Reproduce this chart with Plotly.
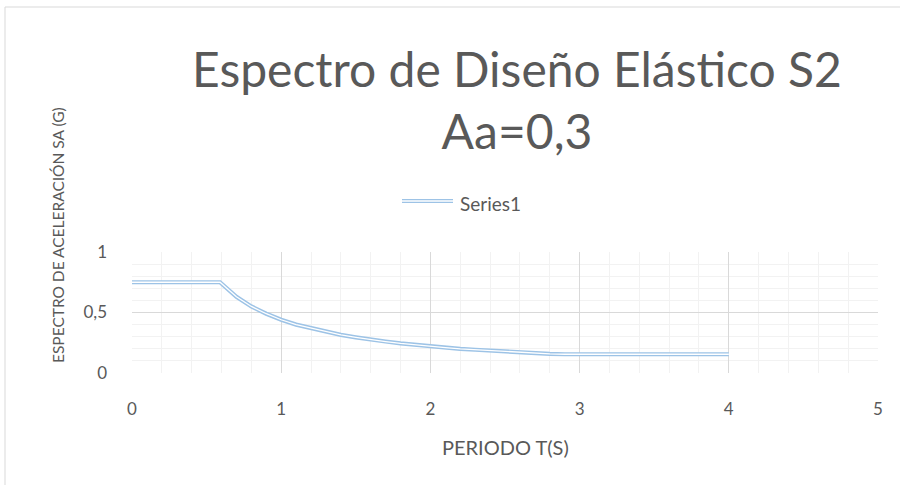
import plotly.graph_objects as go

# Data
periodo_t = [0.0, 0.1, 0.2, 0.3, 0.4, 0.5, 0.59, 0.7, 0.8, 0.9, 1.0, 1.1, 1.2, 1.3, 1.4,
             1.5, 1.6, 1.7, 1.8, 1.9, 2.0, 2.1, 2.2, 2.3, 2.4, 2.5, 2.6, 2.7, 2.8, 2.9,
             3.0, 3.1, 3.2, 3.3, 3.4, 3.5, 3.6, 3.7, 3.8, 3.9, 4.0]
sa_g = [0.75, 0.75, 0.75, 0.75, 0.75, 0.75, 0.75, 0.63, 0.55, 0.49, 0.44, 0.40, 0.37, 0.34, 0.315,
        0.295, 0.275, 0.26, 0.245, 0.232, 0.22, 0.21, 0.20, 0.192, 0.184, 0.177, 0.17, 0.163, 0.158, 0.155,
        0.155, 0.155, 0.155, 0.155, 0.155, 0.155, 0.155, 0.155, 0.155, 0.155, 0.155]
series_name = "Series1"
x_ticks = [0, 1, 2, 3, 4, 5]
y_ticks = [0, 0.5, 1]

TXT = "#595959"
FONT = "Lato"
BLUE = "#9DC3E6"

W, H = 900, 485
L, R, T, B = 132, 22, 252, 112
PW, PH = W - L - R, H - T - B


def px(x):
    return (x - L) / PW


def py(y):
    return (H - B - y) / PH


fig = go.Figure()
fig.add_trace(go.Scatter(x=periodo_t, y=sa_g, mode="lines", name=series_name,
                         line=dict(color=BLUE, width=4.2)))
fig.add_trace(go.Scatter(x=periodo_t, y=sa_g, mode="lines", name=series_name,
                         line=dict(color="white", width=1.3), hoverinfo="skip"))

fig.update_layout(
    width=W, height=H,
    margin=dict(l=L, r=R, t=T, b=B),
    paper_bgcolor="white", plot_bgcolor="white",
    separators=", ",
    font=dict(family=FONT, color=TXT, size=15),
    title=dict(text="Espectro de Diseño Elástico S2<br>Aa=0,3",
               x=517 / W, xanchor="center", y=1 - 87 / H, yanchor="top",
               font=dict(family=FONT, size=48, color=TXT)),
    showlegend=False,
    xaxis=dict(range=[0, 5], tickvals=x_ticks, showgrid=True, gridcolor="#D9D9D9",
               gridwidth=1, zeroline=False, showline=False, ticks="",
               ticklabelstandoff=24, tickfont=dict(size=17, color=TXT),
               minor=dict(dtick=0.2, showgrid=True, gridcolor="#F2F2F2", gridwidth=1)),
    yaxis=dict(range=[0, 1], tickvals=y_ticks, showgrid=True, gridcolor="#D9D9D9",
               gridwidth=1, zeroline=False, showline=False, ticks="",
               ticklabelstandoff=24, tickfont=dict(size=17, color=TXT),
               minor=dict(dtick=0.1, showgrid=True, gridcolor="#F2F2F2", gridwidth=1)),
    annotations=[
        dict(text="ESPECTRO DE ACELERACIÓN SA (G)", x=px(58), y=py(235), xref="paper",
             yref="paper", showarrow=False, textangle=-90, xanchor="center",
             yanchor="middle", font=dict(family=FONT, size=15.5, color=TXT)),
        dict(text="PERIODO T(S)", x=px(505), y=py(447), xref="paper", yref="paper",
             showarrow=False, xanchor="center", yanchor="middle",
             font=dict(family=FONT, size=20, color=TXT)),
        # legend label
        dict(text=series_name, x=px(458), y=py(203), xref="paper", yref="paper",
             showarrow=False, xanchor="left", yanchor="middle",
             font=dict(family=FONT, size=19, color=TXT)),
    ],
    shapes=[
        dict(type="rect", xref="paper", yref="paper", x0=px(5), x1=px(905),
             y0=py(490), y1=py(7), line=dict(color="#D9D9D9", width=1),
             fillcolor="rgba(0,0,0,0)", layer="below"),
        # legend swatch (double line)
        dict(type="line", xref="paper", yref="paper", x0=px(402), x1=px(453),
             y0=py(201), y1=py(201), line=dict(color=BLUE, width=4.2)),
        dict(type="line", xref="paper", yref="paper", x0=px(402), x1=px(453),
             y0=py(201), y1=py(201), line=dict(color="white", width=1.3)),
    ],
)

fig.write_html("out.html", config={"displayModeBar": False},
               post_script="document.body.style.margin='0';")
